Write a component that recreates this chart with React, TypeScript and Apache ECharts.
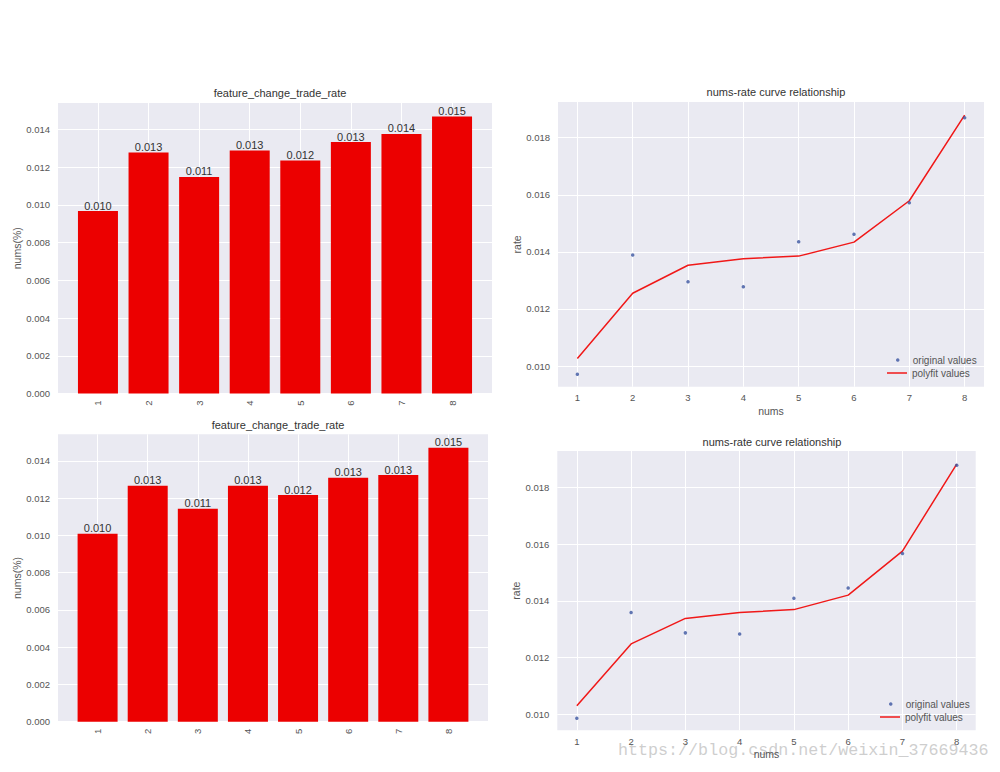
import React, { useEffect, useRef } from "react";
import * as echarts from "echarts";

const categories = [1, 2, 3, 4, 5, 6, 7, 8];
const barTopValues = [0.00967, 0.01277, 0.01148, 0.01288, 0.01235, 0.01333, 0.01376, 0.01468];
const barBottomValues = [0.01008, 0.01266, 0.01142, 0.01266, 0.01216, 0.01309, 0.01323, 0.0147];
const originalTop = [0.00971, 0.01389, 0.01295, 0.01278, 0.01435, 0.01462, 0.01572, 0.0187];
const polyfitTop = [0.01026, 0.01255, 0.01353, 0.01376, 0.01385, 0.01434, 0.01579, 0.01879];
const originalBottom = [0.00986, 0.01359, 0.01287, 0.01283, 0.01409, 0.01445, 0.01567, 0.01878];
const polyfitBottom = [0.0103, 0.01248, 0.01338, 0.01359, 0.01369, 0.0142, 0.01575, 0.01882];

const barTitle = "feature_change_trade_rate";
const lineTitle = "nums-rate curve relationship";
const watermark = "https://blog.csdn.net/weixin_37669436";

const FONT = "Liberation Sans, Arial, sans-serif";
const BG = "#eaeaf2";
const BAR = "#ec0000";
const LINE = "#f01818";
const DOT = "#3b55a0";
const LABEL = "#555555";

const grids = [
  { left: 58, top: 103, width: 434, height: 290.5 },
  { left: 558, top: 102, width: 426, height: 284.7 },
  { left: 58, top: 434.3, width: 430, height: 287.4 },
  { left: 557.3, top: 451, width: 418.4, height: 279.3 },
];

function barX(gridIndex: number) {
  return {
    type: "value",
    gridIndex,
    min: 0.21,
    max: 8.79,
    minInterval: 1,
    maxInterval: 1,
    axisLine: { show: false },
    axisTick: { show: false },
    axisLabel: {
      rotate: 90,
      margin: 7,
      color: LABEL,
      fontSize: 9.5,
      fontFamily: FONT,
      showMinLabel: false,
      showMaxLabel: false,
    },
    splitLine: { show: true, lineStyle: { color: "#ffffff", width: 1 }, showMinLine: false, showMaxLine: false },
  };
}

function barY(gridIndex: number, max: number) {
  return {
    type: "value",
    gridIndex,
    min: 0,
    max,
    interval: 0.002,
    name: "nums(%)",
    nameLocation: "middle",
    nameRotate: 90,
    nameGap: 34,
    nameTextStyle: { color: LABEL, fontSize: 10.5, fontFamily: FONT },
    axisLine: { show: false },
    axisTick: { show: false },
    axisLabel: {
      margin: 8,
      color: LABEL,
      fontSize: 9.5,
      fontFamily: FONT,
      showMaxLabel: false,
      formatter: (v: number) => v.toFixed(3),
    },
    splitLine: { show: true, lineStyle: { color: "#ffffff", width: 1 }, showMaxLine: false },
  };
}

function lineX(gridIndex: number, min: number, max: number, nameGap: number) {
  return {
    type: "value",
    gridIndex,
    min,
    max,
    minInterval: 1,
    maxInterval: 1,
    name: "nums",
    nameLocation: "middle",
    nameGap,
    nameTextStyle: { color: LABEL, fontSize: 10.5, fontFamily: FONT },
    axisLine: { show: false },
    axisTick: { show: false },
    axisLabel: {
      margin: 6,
      color: LABEL,
      fontSize: 9.5,
      fontFamily: FONT,
      showMinLabel: false,
      showMaxLabel: false,
    },
    splitLine: { show: true, lineStyle: { color: "#ffffff", width: 1 }, showMinLine: false, showMaxLine: false },
  };
}

function lineY(gridIndex: number, min: number, max: number) {
  return {
    type: "value",
    gridIndex,
    min,
    max,
    minInterval: 0.002,
    maxInterval: 0.002,
    name: "rate",
    nameLocation: "middle",
    nameRotate: 90,
    nameGap: 34,
    nameTextStyle: { color: LABEL, fontSize: 10.5, fontFamily: FONT },
    axisLine: { show: false },
    axisTick: { show: false },
    axisLabel: {
      margin: 8,
      color: LABEL,
      fontSize: 9.5,
      fontFamily: FONT,
      showMinLabel: false,
      showMaxLabel: false,
      formatter: (v: number) => v.toFixed(3),
    },
    splitLine: { show: true, lineStyle: { color: "#ffffff", width: 1 }, showMinLine: false, showMaxLine: false },
  };
}

function barSeries(idx: number, values: number[], width: number) {
  return {
    type: "bar",
    name: "bars" + idx,
    xAxisIndex: idx,
    yAxisIndex: idx,
    barWidth: width,
    itemStyle: { color: BAR },
    label: {
      show: true,
      position: "top",
      distance: 0,
      color: "#333333",
      fontSize: 11,
      fontFamily: FONT,
      formatter: (p: any) => Number(p.value[1]).toFixed(3),
    },
    data: categories.map((c, i) => [c, values[i]]),
  };
}

function scatterSeries(idx: number, values: number[]) {
  return {
    type: "scatter",
    name: "original values",
    xAxisIndex: idx,
    yAxisIndex: idx,
    symbol: "circle",
    symbolSize: 3.5,
    itemStyle: { color: DOT },
    data: categories.map((c, i) => [c, values[i]]),
    z: 3,
  };
}

function fitSeries(idx: number, values: number[]) {
  return {
    type: "line",
    name: "polyfit values",
    xAxisIndex: idx,
    yAxisIndex: idx,
    symbol: "none",
    lineStyle: { color: LINE, width: 1.5 },
    itemStyle: { color: LINE },
    data: categories.map((c, i) => [c, values[i]]),
    z: 2,
  };
}

function legendItem(name: string, icon: string, color: string, itemHeight: number, left: number, top: number) {
  return {
    orient: "vertical",
    left,
    top,
    itemWidth: 20,
    itemHeight,
    selectedMode: false,
    textStyle: { color: LABEL, fontSize: 10, fontFamily: FONT },
    data: [{ name, icon, itemStyle: { color } }],
  };
}

function titleAt(text: string, cx: number, top: number) {
  return {
    text,
    left: cx,
    top,
    textAlign: "center",
    textStyle: { color: "#333333", fontSize: 11, fontWeight: "normal", fontFamily: FONT },
  };
}

export default function App() {
  const ref = useRef<HTMLDivElement>(null);
  useEffect(() => {
    document.body.style.margin = "0";
    if (!ref.current) return;
    const chart = echarts.init(ref.current, null, { renderer: "svg" });
    chart.setOption({
      animation: false,
      backgroundColor: "#ffffff",
      textStyle: { fontFamily: FONT },
      title: [
        titleAt(barTitle, 275, 82),
        titleAt(lineTitle, 771, 81),
        titleAt(barTitle, 273, 414),
        titleAt(lineTitle, 767, 431),
      ],
      legend: [
        legendItem("original values", "circle", DOT, 3.5, 891, 350),
        legendItem("polyfit values", "rect", LINE, 1.5, 882, 363),
        legendItem("original values", "circle", DOT, 3.5, 884, 694),
        legendItem("polyfit values", "rect", LINE, 1.5, 875, 707),
      ],
      grid: grids.map((g) => ({ ...g, show: true, backgroundColor: BG, borderWidth: 0, containLabel: false })),
      xAxis: [barX(0), lineX(1, 0.65, 8.35, 19), barX(2), lineX(3, 0.64, 8.35, 18)],
      yAxis: [barY(0, 0.0154), lineY(1, 0.009275, 0.01925), barY(2, 0.01542), lineY(3, 0.009436, 0.01928)],
      series: [
        barSeries(0, barTopValues, 40),
        scatterSeries(1, originalTop),
        fitSeries(1, polyfitTop),
        barSeries(2, barBottomValues, 40),
        scatterSeries(3, originalBottom),
        fitSeries(3, polyfitBottom),
      ],
      graphic: [
        {
          type: "text",
          left: 618,
          top: 742,
          silent: true,
          z: 0,
          style: {
            text: watermark,
            fill: "rgba(190,190,190,0.75)",
            font: "16.7px 'Liberation Mono', 'Courier New', monospace",
          },
        },
      ],
    });
    return () => chart.dispose();
  }, []);
  return <div ref={ref} style={{ width: 1000, height: 772 }} />;
}
